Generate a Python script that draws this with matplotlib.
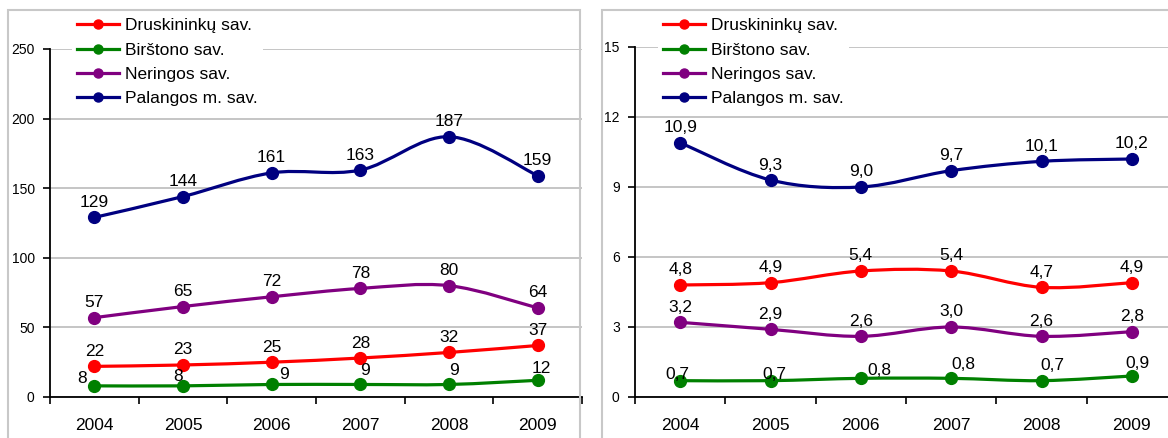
import numpy as np
import matplotlib
matplotlib.use("Agg")
import matplotlib.pyplot as plt
from matplotlib.path import Path
from matplotlib.patches import PathPatch, Rectangle
from matplotlib.lines import Line2D

plt.rcParams["font.family"] = ["Liberation Sans", "DejaVu Sans"]

years = ["2004", "2005", "2006", "2007", "2008", "2009"]
names = ["Druskininkų sav.", "Birštono sav.", "Neringos sav.", "Palangos m. sav."]
colors = ["#FF0000", "#008000", "#800080", "#000080"]

# left panel
druskininku_a = [22, 23, 25, 28, 32, 37]
birstono_a = [8, 8, 9, 9, 9, 12]
neringos_a = [57, 65, 72, 78, 80, 64]
palangos_a = [129, 144, 161, 163, 187, 159]

# right panel
druskininku_b = [4.8, 4.9, 5.4, 5.4, 4.7, 4.9]
birstono_b = [0.7, 0.7, 0.8, 0.8, 0.7, 0.9]
neringos_b = [3.2, 2.9, 2.6, 3.0, 2.6, 2.8]
palangos_b = [10.9, 9.3, 9.0, 9.7, 10.1, 10.2]

# label offsets (pixels) for the green series, which sit close to the markers
green_off_a = [(-12, 7), (-5, 9), (12, 10), (5, 14), (5, 14), (4, 12)]
green_off_b = [(-3, 6), (4, 6), (19, 8), (12, 14), (11, 15), (6, 12)]

W, H = 1168, 438


def smooth_path(x, y):
    # excel-like smoothed line, drawn as cubic bezier segments through the points
    x = np.asarray(x, float)
    y = np.asarray(y, float)
    n = len(x)
    verts = [(x[0], y[0])]
    codes = [Path.MOVETO]
    for i in range(n - 1):
        i0 = max(i - 1, 0)
        i3 = min(i + 2, n - 1)
        c1 = (x[i] + (x[i + 1] - x[i0]) / 6, y[i] + (y[i + 1] - y[i0]) / 6)
        c2 = (x[i + 1] - (x[i3] - x[i]) / 6, y[i + 1] - (y[i3] - y[i]) / 6)
        verts += [c1, c2, (x[i + 1], y[i + 1])]
        codes += [Path.CURVE4] * 3
    return Path(verts, codes)


def draw_panel(ax, series, ymax, ystep, fmt, green_off, legend_xy):
    x = np.arange(len(years))
    for k, (vals, c) in enumerate(zip(series, colors)):
        ax.add_patch(PathPatch(smooth_path(x, vals), fill=False, edgecolor=c,
                               lw=2.3, capstyle="round", zorder=3))
        ax.plot(x, vals, "o", ms=8.5, color=c, zorder=4)
        for i, v in enumerate(vals):
            dx, dy = green_off[i] if k == 1 else (0, 15)
            ax.annotate(fmt(v), (x[i], v), xytext=(dx, dy), textcoords="offset pixels",
                        ha="center", va="center", fontsize=12.5, zorder=5)

    ax.set_xlim(-0.5, len(years) - 0.5)
    ax.set_ylim(0, ymax)
    ax.set_yticks(np.arange(0, ymax + ystep / 2, ystep))
    ax.set_xticks(np.arange(-0.5, len(years), 1))
    ax.set_xticklabels([])
    ax.set_xticks(x, minor=True)
    ax.set_xticklabels(years, minor=True)
    ax.tick_params(axis="x", which="major", length=5, width=1.2, direction="out")
    ax.tick_params(axis="x", which="minor", length=0, pad=15, labelsize=12.5)
    ax.tick_params(axis="y", length=5, width=1.2, pad=6, labelsize=10)
    ax.yaxis.grid(True, color="#C0C0C0", lw=1.3)
    ax.set_axisbelow(True)
    for s in ("top", "right"):
        ax.spines[s].set_visible(False)
    for s in ("left", "bottom"):
        ax.spines[s].set_linewidth(1.3)

    handles = [Line2D([], [], color=c, lw=2.3, marker="o", ms=6.5) for c in colors]
    leg = ax.legend(handles, names, loc="upper left",
                    bbox_to_anchor=(legend_xy[0] / W, 1 - legend_xy[1] / H),
                    bbox_transform=ax.figure.transFigure, frameon=True,
                    fancybox=False, facecolor="white", edgecolor="none",
                    framealpha=1, fontsize=12.5, handlelength=2.4,
                    handletextpad=0.35, labelspacing=0.53, borderpad=0.3,
                    borderaxespad=0)
    leg.set_zorder(6)


fig = plt.figure(figsize=(W / 100, H / 100), dpi=100)

ax1 = fig.add_axes([50 / W, (H - 397) / H, 532 / W, 348 / H])
draw_panel(ax1, [druskininku_a, birstono_a, neringos_a, palangos_a],
           250, 50, lambda v: "%d" % v, green_off_a, (72, 13))

ax2 = fig.add_axes([635 / W, (H - 397) / H, 542 / W, 350 / H])
draw_panel(ax2, [druskininku_b, birstono_b, neringos_b, palangos_b],
           15, 3, lambda v: ("%.1f" % v).replace(".", ","), green_off_b, (658, 13))

# panel frames
fig.add_artist(Rectangle((8 / W, -0.05), 572 / W, (H - 10) / H + 0.05,
                         transform=fig.transFigure, fill=False,
                         edgecolor="#C8C8C8", lw=1.5))
fig.add_artist(Rectangle((602 / W, -0.05), 0.6, (H - 10) / H + 0.05,
                         transform=fig.transFigure, fill=False,
                         edgecolor="#C8C8C8", lw=1.5))

plt.savefig("out.png", dpi=100)
plt.close()
